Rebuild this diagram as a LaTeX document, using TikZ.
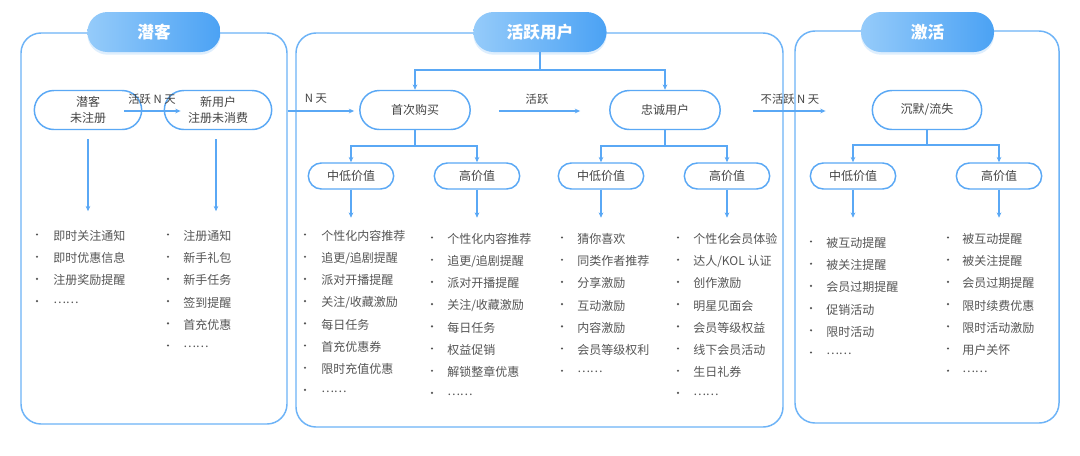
\documentclass[tikz,border=0pt]{standalone}
\usepackage{fontspec}
\setmainfont{Noto Sans CJK SC}
\usetikzlibrary{shapes.misc,arrows.meta,shadows}
\definecolor{bl}{HTML}{5AA8F5}
\definecolor{boxc}{HTML}{6DB3F7}
\definecolor{tl}{HTML}{95CBFA}
\definecolor{tr}{HTML}{4BA2F4}
\definecolor{txt}{HTML}{444444}
\definecolor{itm}{HTML}{555555}
\tikzset{
  container/.style={draw=boxc, line width=1.1pt, rounded corners=15pt, inner sep=0pt},
  titlepill/.style={rounded rectangle, left color=tl, right color=tr, draw=none,
    minimum width=106.5pt, minimum height=30pt, text=white,
    font=\fontsize{12.5}{14}\selectfont\bfseries,
    drop shadow={shadow xshift=0pt, shadow yshift=-2pt, opacity=.18, fill=tr}},
  state/.style={rounded rectangle, draw=bl, line width=1.1pt, fill=white,
    minimum width=82.5pt, minimum height=29.25pt, inner sep=1pt, align=center,
    text=txt, font=\fontsize{9}{11.5}\selectfont},
  valnode/.style={rounded rectangle, draw=bl, line width=1.1pt, fill=white,
    minimum width=66pt, minimum height=19.5pt, inner sep=1pt,
    text=txt, font=\fontsize{9}{11}\selectfont},
  arr/.style={draw=bl, line width=1pt, -{Stealth[length=4pt,width=3.5pt]}},
  ln/.style={draw=bl, line width=1pt},
  lbl/.style={text=txt, font=\fontsize{8.5}{10}\selectfont, inner sep=0pt},
  item/.style={text=itm, font=\fontsize{9}{11}\selectfont, inner sep=0pt, anchor=west},
}
\newcommand{\blist}[5]{%
  \foreach \t [count=\i from 0] in {#5} {
    \fill[itm] (#2, {#4+\i*22.2-1.5}) circle (0.9pt);
    \node[item] (#1\i) at (#3, {#4+\i*22.2}) {\t};
  }}
\begin{document}
\begin{tikzpicture}[x=0.75pt,y=-0.75pt]
\useasboundingbox (0,0) rectangle (1080,455);
\fill[white] (0,0) rectangle (1080,455);

% containers
\node[container, minimum width=199.5pt, minimum height=293.25pt] (lbox) at (154,228.5) {};
\node[container, minimum width=365.25pt, minimum height=295.5pt] (mbox) at (539.5,230) {};
\node[container, minimum width=198pt, minimum height=294pt] (rbox) at (927,227) {};

% titles
\node[titlepill] (t1) at (154,32) {潜客};
\node[titlepill] (t2) at (540,32) {活跃用户};
\node[titlepill] (t3) at (927.5,32) {激活};

% state nodes
\node[state] (a) at (88,110) {潜客\\未注册};
\node[state] (b) at (218,110) {新用户\\注册未消费};
\node[state, minimum width=84.75pt] (fb) at (415,110) {首次购买};
\node[state, minimum width=84.75pt] (lo) at (665,110) {忠诚用户};
\node[state, minimum width=84pt] (si) at (927,110) {沉默/流失};

% value nodes
\node[valnode] (v1) at (351,176) {中低价值};
\node[valnode] (v2) at (477,176) {高价值};
\node[valnode] (v3) at (601,176) {中低价值};
\node[valnode] (v4) at (727,176) {高价值};
\node[valnode] (v5) at (853,176) {中低价值};
\node[valnode] (v6) at (999,176) {高价值};

% horizontal transitions
\draw[arr] ([xshift=-13.5pt]a.east |- 0,111) -- ([xshift=12.75pt]b.west |- 0,111);
\node[lbl] (l1) at (152,99) {活跃 N 天};
\draw[arr] (lbox.east |- 0,111) -- ([xshift=-3.75pt]fb.west |- 0,111);
\node[lbl] (l2) at (316,99) {N 天};
\draw[arr] ([xshift=21pt]fb.east |- 0,111) -- ([xshift=-21.75pt]lo.west |- 0,111);
\node[lbl] (l3) at (537,99) {活跃};
\draw[arr] ([xshift=24pt]lo.east |- 0,111) -- ([xshift=-34.5pt]si.west |- 0,111);
\node[lbl] (l4) at (790,99) {不活跃 N 天};

% tree from title
\coordinate (j1) at (540,70);
\draw[ln] (t2.south) -- (j1);
\draw[arr] (j1) -| (fb.north);
\draw[arr] (j1) -| (lo.north);

% trees to value nodes
\coordinate (j2) at (415,146);
\draw[ln] (fb.south) -- (j2);
\draw[arr] (j2) -| (v1.north);
\draw[arr] (j2) -| (v2.north);
\coordinate (j3) at (665,146);
\draw[ln] (lo.south) -- (j3);
\draw[arr] (j3) -| (v3.north);
\draw[arr] (j3) -| (v4.north);
\coordinate (j4) at (927,145);
\draw[ln] (si.south) -- (j4);
\draw[arr] (j4) -| (v5.north);
\draw[arr] (j4) -| (v6.north);

% down arrows
\draw[arr] (a.south) ++(0,9) -- ++(0,72);
\draw[arr] ([xshift=-1.5pt]b.south) ++(0,9) -- ++(0,72);
\foreach \v in {v1,v2,v3,v4,v5,v6} {\draw[arr] (\v.south) -- ++(0,28);}

% lists
\blist{pa}{37}{53}{236}{即时关注通知,即时优惠信息,注册奖励提醒,……}
\blist{pb}{168}{183}{236}{注册通知,新手礼包,新手任务,签到提醒,首充优惠,……}
\blist{pc}{305}{321}{236}{个性化内容推荐,追更/追剧提醒,派对开播提醒,关注/收藏激励,每日任务,首充优惠券,限时充值优惠,……}
\blist{pd}{432}{447}{239}{个性化内容推荐,追更/追剧提醒,派对开播提醒,关注/收藏激励,每日任务,权益促销,解锁整章优惠,……}
\blist{pe}{562}{577}{239}{猜你喜欢,同类作者推荐,分享激励,互动激励,内容激励,会员等级权利,……}
\blist{pf}{678}{693}{239}{个性化会员体验,达人/KOL 认证,创作激励,明星见面会,会员等级权益,线下会员活动,生日礼券,……}
\blist{pg}{811}{826}{243}{被互动提醒,被关注提醒,会员过期提醒,促销活动,限时活动,……}
\blist{ph}{948}{962}{239}{被互动提醒,被关注提醒,会员过期提醒,限时续费优惠,限时活动激励,用户关怀,……}
\end{tikzpicture}
\end{document}
